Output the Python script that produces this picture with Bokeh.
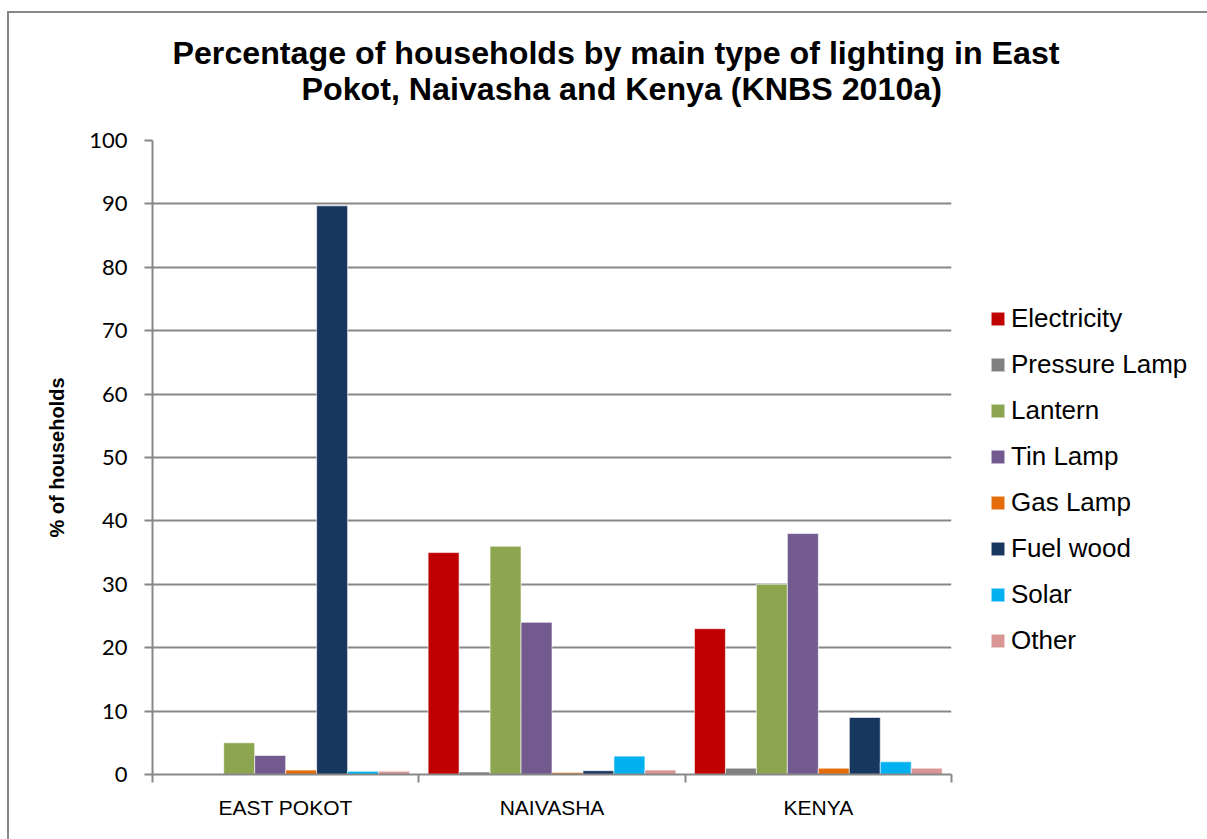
from bokeh.plotting import figure
from bokeh.models import (Range1d, FixedTicker, Legend, LegendItem, Title,
                          ColumnDataSource)
from bokeh.embed import file_html
from bokeh.resources import INLINE

# Percentage of households by main lighting type
regions = ["EAST POKOT", "NAIVASHA", "KENYA"]
series = ["Electricity", "Pressure Lamp", "Lantern", "Tin Lamp",
          "Gas Lamp", "Fuel wood", "Solar", "Other"]
electricity = [0.0, 35.0, 23.0]
pressure_lamp = [0.0, 0.4, 1.0]
lantern = [5.0, 36.0, 30.0]
tin_lamp = [3.0, 24.0, 38.0]
gas_lamp = [0.7, 0.3, 1.0]
fuel_wood = [89.7, 0.6, 9.0]
solar = [0.5, 2.9, 2.0]
other = [0.5, 0.7, 1.0]
y_ticks = list(range(0, 101, 10))

values = [electricity, pressure_lamp, lantern, tin_lamp,
          gas_lamp, fuel_wood, solar, other]
colors = ["#C00000", "#808080", "#8BA64F", "#725A8F",
          "#E46C0A", "#17375E", "#00B0F0", "#D99694"]

GREY = "#878787"

p = figure(frame_width=799, frame_height=634,
           x_range=Range1d(0, len(regions)), y_range=Range1d(0, 100),
           output_backend="svg", toolbar_location=None, title=None,
           min_border_left=143, min_border_right=10,
           min_border_top=127, min_border_bottom=65)
p.styles = {"margin-left": "7px", "margin-top": "11px",
            "border-left": f"2px solid {GREY}",
            "border-top": f"2px solid {GREY}"}
p.outline_line_color = None
p.background_fill_color = "white"
p.border_fill_color = "white"

# clustered bars: 8 bars per region with a small gap on each side
n = len(series)
bw = 1.0 / (n + 0.6)
items = []
for j, (name, vals, col) in enumerate(zip(series, values, colors)):
    xs = [i + (0.3 + j + 0.5) * bw for i in range(len(regions))]
    src = ColumnDataSource(dict(x=xs, top=vals))
    r = p.vbar(x="x", top="top", bottom=0, width=bw, source=src,
               fill_color=col, line_color="white", line_alpha=0.6,
               line_width=1)
    items.append(LegendItem(label=name, renderers=[r]))

# x axis: region names centred, tick marks on the region boundaries
xt = FixedTicker(ticks=[i + 0.5 for i in range(len(regions))],
                 minor_ticks=list(range(len(regions) + 1)))
p.xaxis.ticker = xt
p.xaxis.major_label_overrides = {i + 0.5: r for i, r in enumerate(regions)}
p.xaxis.major_tick_line_color = None
p.xaxis.minor_tick_line_color = GREY
p.xaxis.minor_tick_line_width = 2
p.xaxis.minor_tick_out = 8
p.xaxis.minor_tick_in = 0
p.xaxis.axis_line_color = GREY
p.xaxis.axis_line_width = 2
p.xaxis.major_label_text_font = "Liberation Sans"
p.xaxis.major_label_text_font_size = "21px"
p.xaxis.major_label_text_color = "black"
p.xaxis.major_label_standoff = 13

p.yaxis.ticker = FixedTicker(ticks=y_ticks, minor_ticks=[])
p.yaxis.axis_line_color = GREY
p.yaxis.axis_line_width = 2
p.yaxis.major_tick_line_color = GREY
p.yaxis.major_tick_line_width = 2
p.yaxis.major_tick_out = 8
p.yaxis.major_tick_in = 0
p.yaxis.minor_tick_line_color = None
p.yaxis.major_label_text_font = "Lato"
p.yaxis.major_label_text_font_size = "22px"
p.yaxis.major_label_text_color = "black"
p.yaxis.major_label_standoff = 17
p.yaxis.axis_label = "% of households"
p.yaxis.axis_label_text_font = "Liberation Sans"
p.yaxis.axis_label_text_font_style = "bold"
p.yaxis.axis_label_text_font_size = "20px"
p.yaxis.axis_label_text_color = "black"
p.yaxis.axis_label_standoff = 18

p.xgrid.grid_line_color = None
p.ygrid.grid_line_color = GREY
p.ygrid.grid_line_width = 2

# legend sits to the right of the plotting area
legend = Legend(items=items, location=(38, 118), orientation="vertical",
                border_line_color=None, background_fill_alpha=0,
                padding=0, margin=0, glyph_width=17, glyph_height=17,
                label_standoff=5, spacing=15,
                label_text_font="Liberation Sans",
                label_text_font_size="26px", label_text_color="black")
p.add_layout(legend, "right")

# two-line chart title; the first line overlaps the second's panel slot
t2 = Title(text="Pokot, Naivasha and Kenya (KNBS 2010a)", align="left",
           offset=149, standoff=64, vertical_align="top",
           text_font="Liberation Sans", text_font_style="bold",
           text_font_size="32.2px", text_color="black")
t1 = Title(text="Percentage of households by main type of lighting in East",
           align="left", offset=20, standoff=-64, vertical_align="bottom",
           text_font="Liberation Sans", text_font_style="bold",
           text_font_size="32.2px", text_color="black")
p.add_layout(t2, "above")
p.add_layout(t1, "above")

open("out.html", "w").write(file_html(p, INLINE))
